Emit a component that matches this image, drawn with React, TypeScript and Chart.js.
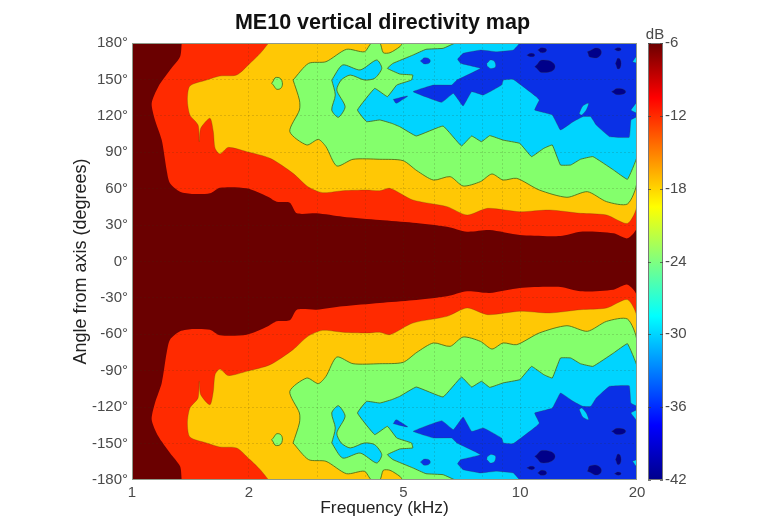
import React, { useEffect, useRef } from "react";
import { Chart, registerables } from "chart.js";

Chart.register(...registerables);

type P = [number, number];

const titleText = "ME10 vertical directivity map";
const xTitle = "Frequency (kHz)";
const yTitle = "Angle from axis (degrees)";
const freqGrid = [1, 2, 3, 4, 5, 6, 7, 8, 9, 10, 20];
const freqLabels = [1, 2, 5, 10, 20];

// contour outlines: [frequency kHz, angle degrees]
const plane: P[] = [[1, 180], [20, 180], [20, -180], [1, -180]];

const redTop: P[] = [[1.343, 180], [1.33, 168.7], [1.253, 157.7], [1.169, 144], [1.124, 130.3], [1.146, 116.6], [1.193, 100], [1.228, 75.4], [1.253, 64.4], [1.33, 57.5], [1.439, 55.6], [1.588, 56.2], [1.685, 60.8], [1.975, 60.3], [2.24, 53.4], [2.36, 49.3], [2.55, 48.5], [2.66, 39.7], [2.99, 39.7], [3.49, 36.9], [4.35, 34.2], [5.29, 32], [6.48, 28.7], [7.3, 24.6], [8.35, 25.9], [9.98, 21.8], [12.7, 21], [14.3, 24.6], [17.4, 23.2], [18.9, 19.1], [20, 28.7], [20, 180]];
const redBottom: P[] = [[1.343, -180], [1.33, -168.7], [1.253, -157.7], [1.169, -144], [1.124, -130.3], [1.146, -116.6], [1.193, -100], [1.228, -75.4], [1.253, -64.4], [1.33, -57.5], [1.439, -55.6], [1.588, -56.2], [1.685, -60.8], [1.975, -60.3], [2.24, -53.4], [2.36, -49.3], [2.55, -48.5], [2.66, -39.7], [2.99, -39.7], [3.49, -36.9], [4.35, -34.2], [5.29, -32], [6.48, -28.7], [7.3, -24.6], [8.35, -25.9], [9.98, -21.8], [12.7, -21], [14.3, -24.6], [17.4, -23.2], [18.9, -19.1], [20, -28.7], [20, -180]];

const yellowTop: P[] = [[2.25, 180], [2.14, 171.5], [2.01, 163], [1.86, 153.6], [1.685, 152.8], [1.557, 149.5], [1.41, 144.6], [1.389, 133], [1.41, 120.7], [1.48, 112.4], [1.49, 98.7], [1.503, 109.7], [1.588, 118], [1.62, 107], [1.637, 93.2], [1.685, 88.6], [1.77, 94], [1.975, 90.5], [2.27, 85], [2.6, 72.6], [2.84, 61.6], [3.1, 56.7], [3.49, 58.3], [4.02, 58.9], [4.35, 58.3], [4.62, 60.3], [5.29, 50.7], [6.48, 45.2], [7.3, 38.3], [8.24, 43.8], [9.98, 41], [11.9, 42.4], [14.3, 39.7], [16.7, 38.3], [18.9, 31.4], [20, 46.5], [20, 180]];
const yellowBottom: P[] = [[2.25, -180], [2.14, -171.5], [2.01, -163], [1.86, -153.6], [1.685, -152.8], [1.557, -149.5], [1.41, -144.6], [1.389, -133], [1.41, -120.7], [1.48, -112.4], [1.49, -98.7], [1.503, -109.7], [1.588, -118], [1.62, -107], [1.637, -93.2], [1.685, -88.6], [1.77, -94], [1.975, -90.5], [2.27, -85], [2.6, -72.6], [2.84, -61.6], [3.1, -56.7], [3.49, -58.3], [4.02, -58.9], [4.35, -58.3], [4.62, -60.3], [5.29, -50.7], [6.48, -45.2], [7.3, -38.3], [8.24, -43.8], [9.98, -41], [11.9, -42.4], [14.3, -39.7], [16.7, -38.3], [18.9, -31.4], [20, -46.5], [20, -180]];

const greenTop: P[] = [[2.6, 149.5], [2.85, 163.2], [3.16, 164.6], [3.57, 174.8], [3.97, 172.8], [4.14, 180], [4.35, 180], [4.44, 172], [4.62, 172], [4.9, 177], [5.0, 180], [20, 180], [20, 65.8], [18.9, 47.4], [16.7, 49.3], [14.9, 57.5], [13.2, 52.9], [11.2, 58.9], [9.8, 68.5], [9.04, 67.1], [8.46, 72.1], [7.9, 65.8], [7.13, 62.2], [6.6, 69.9], [5.98, 67.1], [5.42, 74.8], [4.99, 83.1], [4.35, 84.2], [3.71, 84.2], [3.37, 78.7], [3.16, 94.6], [3.02, 100.6], [2.82, 96], [2.55, 107], [2.7, 124.8], [2.7, 133]];
const greenBottom: P[] = [[2.6, -149.5], [2.85, -163.2], [3.16, -164.6], [3.57, -174.8], [3.97, -172.8], [4.14, -180], [4.35, -180], [4.44, -172], [4.62, -172], [4.9, -177], [5.0, -180], [20, -180], [20, -65.8], [18.9, -47.4], [16.7, -49.3], [14.9, -57.5], [13.2, -52.9], [11.2, -58.9], [9.8, -68.5], [9.04, -67.1], [8.46, -72.1], [7.9, -65.8], [7.13, -62.2], [6.6, -69.9], [5.98, -67.1], [5.42, -74.8], [4.99, -83.1], [4.35, -84.2], [3.71, -84.2], [3.37, -78.7], [3.16, -94.6], [3.02, -100.6], [2.82, -96], [2.55, -107], [2.7, -124.8], [2.7, -133]];
const greenIsleTop: P[] = [[2.29, 146.8], [2.36, 151.7], [2.44, 147.3], [2.38, 141.8]];
const greenIsleBottom: P[] = [[2.29, -146.8], [2.36, -151.7], [2.44, -147.3], [2.38, -141.8]];

const cyanTop: P[] = [[6.8, 180], [6.33, 175.6], [5.72, 174.8], [5.29, 170], [4.7, 163.2], [4.55, 159.1], [4.9, 154.4], [5.29, 153.6], [5.25, 149.5], [4.81, 145.4], [4.55, 135.8], [4.22, 142.6], [3.81, 124.8], [4.02, 115.2], [4.35, 116.6], [4.67, 113.8], [4.9, 111], [5.4, 103.4], [6.33, 111.6], [7.06, 95.2], [7.5, 103.4], [7.95, 98.7], [8.35, 103.7], [9.04, 100], [9.98, 97.3], [10.7, 86.4], [11.5, 93.2], [12.1, 96], [12.7, 79.5], [13.5, 79.5], [14.3, 84.2], [15.4, 86.4], [17.4, 75.4], [18.9, 67.7], [20, 86.4], [20, 180]];
const cyanBottom: P[] = [[6.8, -180], [6.33, -175.6], [5.72, -174.8], [5.29, -170], [4.7, -163.2], [4.55, -159.1], [4.9, -154.4], [5.29, -153.6], [5.25, -149.5], [4.81, -145.4], [4.55, -135.8], [4.22, -142.6], [3.81, -124.8], [4.02, -115.2], [4.35, -116.6], [4.67, -113.8], [4.9, -111], [5.4, -103.4], [6.33, -111.6], [7.06, -95.2], [7.5, -103.4], [7.95, -98.7], [8.35, -103.7], [9.04, -100], [9.98, -97.3], [10.7, -86.4], [11.5, -93.2], [12.1, -96], [12.7, -79.5], [13.5, -79.5], [14.3, -84.2], [15.4, -86.4], [17.4, -75.4], [18.9, -67.7], [20, -86.4], [20, -180]];
const cyanLobeTop: P[] = [[3.27, 149.5], [3.49, 161.9], [3.87, 157.8], [4.27, 166], [4.4, 159.1], [4.22, 150.9], [3.97, 149.5], [3.65, 153.6], [3.46, 149.5], [3.37, 141.3], [3.54, 127.5], [3.4, 118.8], [3.27, 124.8], [3.34, 137.1]];
const cyanLobeBottom: P[] = [[3.27, -149.5], [3.49, -161.9], [3.87, -157.8], [4.27, -166], [4.4, -159.1], [4.22, -150.9], [3.97, -149.5], [3.65, -153.6], [3.46, -149.5], [3.37, -141.3], [3.54, -127.5], [3.4, -118.8], [3.27, -124.8], [3.34, -137.1]];
const cyanHoleATop: P[] = [[8.2, 163.2], [8.44, 166], [8.65, 161.9], [8.5, 159.1], [8.26, 160.5]];
const cyanHoleABottom: P[] = [[8.2, -163.2], [8.44, -166], [8.65, -161.9], [8.5, -159.1], [8.26, -160.5]];
const cyanHoleBTop: P[] = [[14.2, 122], [14.5, 128.1], [15, 130.3], [14.8, 124.8], [14.4, 120.7]];
const cyanHoleBBottom: P[] = [[14.2, -122], [14.5, -128.1], [15, -130.3], [14.8, -124.8], [14.4, -120.7]];

const blueTop: P[] = [[9.98, 180], [9.6, 174.2], [8.69, 172.8], [7.9, 174.2], [7.13, 171.5], [6.9, 166.6], [7.03, 163.2], [7.9, 159.1], [6.87, 149.5], [6.66, 145.4], [5.98, 145.4], [5.3, 139.9], [6.28, 131.1], [6.73, 138.5], [7.13, 128.1], [7.5, 139.9], [8.04, 137.1], [8.96, 145.4], [9.06, 149.5], [9.6, 150], [11, 135.8], [11.2, 133], [10.9, 124.8], [12.1, 120.7], [12.7, 108.3], [13.7, 115.2], [14.5, 119.3], [15.2, 119.3], [15.7, 112.4], [17, 102.8], [19.1, 102.3], [19.3, 116.6], [20, 119.3], [20, 122], [19.3, 124.8], [20, 131.7], [20, 163.2], [19.5, 164.6], [20, 170], [20, 180]];
const blueBottom: P[] = [[9.98, -180], [9.6, -174.2], [8.69, -172.8], [7.9, -174.2], [7.13, -171.5], [6.9, -166.6], [7.03, -163.2], [7.9, -159.1], [6.87, -149.5], [6.66, -145.4], [5.98, -145.4], [5.3, -139.9], [6.28, -131.1], [6.73, -138.5], [7.13, -128.1], [7.5, -139.9], [8.04, -137.1], [8.96, -145.4], [9.06, -149.5], [9.6, -150], [11, -135.8], [11.2, -133], [10.9, -124.8], [12.1, -120.7], [12.7, -108.3], [13.7, -115.2], [14.5, -119.3], [15.2, -119.3], [15.7, -112.4], [17, -102.8], [19.1, -102.3], [19.3, -116.6], [20, -119.3], [20, -122], [19.3, -124.8], [20, -131.7], [20, -163.2], [19.5, -164.6], [20, -170], [20, -180]];
const blueIsleATop: P[] = [[5.53, 165.2], [5.7, 167.9], [5.87, 165.2], [5.7, 162.7]];
const blueIsleABottom: P[] = [[5.53, -165.2], [5.7, -167.9], [5.87, -165.2], [5.7, -162.7]];
const blueIsleBTop: P[] = [[4.71, 133.6], [5.13, 136.3], [4.93, 132.5], [4.79, 130.3]];
const blueIsleBBottom: P[] = [[4.71, -133.6], [5.13, -136.3], [4.93, -132.5], [4.79, -130.3]];

const navyATop: P[] = [[10.9, 160.5], [11.5, 166], [12.3, 160.5], [11.5, 155.6]];
const navyABottom: P[] = [[10.9, -160.5], [11.5, -166], [12.3, -160.5], [11.5, -155.6]];
const navyBTop: P[] = [[14.9, 172.8], [15.9, 175.6], [16.1, 170], [15.2, 168.2]];
const navyBBottom: P[] = [[14.9, -172.8], [15.9, -175.6], [16.1, -170], [15.2, -168.2]];
const navyCTop: P[] = [[17.6, 163.2], [17.9, 167.4], [18.2, 163.2], [17.9, 158.6]];
const navyCBottom: P[] = [[17.6, -163.2], [17.9, -167.4], [18.2, -163.2], [17.9, -158.6]];
const navyDTop: P[] = [[17.2, 139.9], [17.9, 142.6], [18.7, 139.9], [17.9, 137.4]];
const navyDBottom: P[] = [[17.2, -139.9], [17.9, -142.6], [18.7, -139.9], [17.9, -137.4]];
const navyETop: P[] = [[11.1, 174.2], [11.4, 176.1], [11.7, 174.2], [11.4, 172]];
const navyEBottom: P[] = [[11.1, -174.2], [11.4, -176.1], [11.7, -174.2], [11.4, -172]];
const navyFTop: P[] = [[10.4, 170], [10.7, 171.5], [10.9, 170], [10.7, 168.7]];
const navyFBottom: P[] = [[10.4, -170], [10.7, -171.5], [10.9, -170], [10.7, -168.7]];
const navyGTop: P[] = [[17.5, 174.8], [17.9, 176], [18.2, 174.8], [17.9, 173.4]];
const navyGBottom: P[] = [[17.5, -174.8], [17.9, -176], [18.2, -174.8], [17.9, -173.4]];

const DARK = "#6a0000";
const RED = "#ff2a00";
const YELLOW = "#ffc805";
const GREEN = "#84ff6c";
const CYAN = "#00d4ff";
const BLUE = "#0a30e6";
const NAVY = "#00008a";
const EDGE = "rgba(75,105,25,0.85)";
const FAINT = "rgba(70,60,20,0.25)";
const NONE = "rgba(0,0,0,0)";
const OVAL = 0.6;
const SOFT = 0.25;
const SHARP = 0.08;

// first entry is painted on top
const layers: [P[], string, string, number][] = [
  [navyATop, NAVY, FAINT, OVAL], [navyABottom, NAVY, FAINT, OVAL],
  [navyBTop, NAVY, FAINT, OVAL], [navyBBottom, NAVY, FAINT, OVAL],
  [navyCTop, NAVY, FAINT, OVAL], [navyCBottom, NAVY, FAINT, OVAL],
  [navyDTop, NAVY, FAINT, OVAL], [navyDBottom, NAVY, FAINT, OVAL],
  [navyETop, NAVY, FAINT, OVAL], [navyEBottom, NAVY, FAINT, OVAL],
  [navyFTop, NAVY, FAINT, OVAL], [navyFBottom, NAVY, FAINT, OVAL],
  [navyGTop, NAVY, FAINT, OVAL], [navyGBottom, NAVY, FAINT, OVAL],
  [cyanHoleATop, CYAN, FAINT, OVAL], [cyanHoleABottom, CYAN, FAINT, OVAL],
  [cyanHoleBTop, CYAN, FAINT, SOFT], [cyanHoleBBottom, CYAN, FAINT, SOFT],
  [blueIsleATop, BLUE, FAINT, OVAL], [blueIsleABottom, BLUE, FAINT, OVAL],
  [blueIsleBTop, BLUE, FAINT, SOFT], [blueIsleBBottom, BLUE, FAINT, SOFT],
  [blueTop, BLUE, FAINT, SHARP], [blueBottom, BLUE, FAINT, SHARP],
  [cyanLobeTop, CYAN, EDGE, SOFT], [cyanLobeBottom, CYAN, EDGE, SOFT],
  [cyanTop, CYAN, EDGE, SHARP], [cyanBottom, CYAN, EDGE, SHARP],
  [greenIsleTop, GREEN, EDGE, OVAL], [greenIsleBottom, GREEN, EDGE, OVAL],
  [greenTop, GREEN, EDGE, SOFT], [greenBottom, GREEN, EDGE, SOFT],
  [yellowTop, YELLOW, FAINT, SOFT], [yellowBottom, YELLOW, FAINT, SOFT],
  [redTop, RED, NONE, SOFT], [redBottom, RED, NONE, SOFT],
  [plane, DARK, NONE, 0],
];

const dbMin = -42;
const dbMax = -6;
const dbStep = 6;
const jetStops: [number, string][] = [
  [0, "#6a0000"], [0.125, "#ff0000"], [0.375, "#ffff00"], [0.625, "#00ffff"], [0.875, "#0000ff"], [1, "#00008a"],
];

const FONT = "'Liberation Sans', Arial, sans-serif";
const TICK = "#4a4a4a";
const GRID = "rgba(50,50,20,0.16)";

const frame = {
  id: "frame",
  afterDraw(chart: any) {
    const { ctx, chartArea: a, scales } = chart;
    const y2 = scales.y2;
    const top = y2.getPixelForValue(dbMax);
    const bottom = y2.getPixelForValue(dbMin);
    const left = 648;
    const right = 663;
    const g = ctx.createLinearGradient(0, top, 0, bottom);
    jetStops.forEach(([o, c]) => g.addColorStop(o, c));
    ctx.save();
    ctx.fillStyle = g;
    ctx.fillRect(left, top, right - left, bottom - top);
    ctx.strokeStyle = "#777";
    ctx.lineWidth = 1;
    ctx.strokeRect(left + 0.5, top + 0.5, right - left - 1, bottom - top - 1);
    ctx.beginPath();
    y2.ticks.forEach((t: any) => {
      const py = Math.round(y2.getPixelForValue(t.value)) + 0.5;
      ctx.moveTo(left, py);
      ctx.lineTo(left + 3, py);
      ctx.moveTo(right - 3, py);
      ctx.lineTo(right, py);
    });
    ctx.strokeStyle = "rgba(60,60,60,0.7)";
    ctx.stroke();
    ctx.strokeStyle = "#8f9a8a";
    ctx.strokeRect(a.left + 0.5, a.top + 0.5, a.width - 1, a.height - 1);
    ctx.fillStyle = TICK;
    ctx.font = `15px ${FONT}`;
    ctx.textAlign = "center";
    ctx.textBaseline = "bottom";
    ctx.fillText("dB", 655, 42);
    ctx.restore();
  },
};

export default function App() {
  const ref = useRef<HTMLCanvasElement>(null);
  useEffect(() => {
    const chart = new Chart(ref.current as HTMLCanvasElement, {
      type: "line",
      data: {
        datasets: layers.map(([pts, fill, edge, tension]) => ({
          data: [...pts, pts[0]].map(([x, y]) => ({ x, y })),
          fill: "shape",
          backgroundColor: fill,
          borderColor: edge,
          borderWidth: 1,
          pointRadius: 0,
          tension,
          xAxisID: "x",
          yAxisID: "y",
        })),
      } as any,
      options: {
        animation: false,
        responsive: false,
        devicePixelRatio: 1,
        parsing: { xAxisKey: "x", yAxisKey: "y" },
        layout: { padding: 0 },
        plugins: {
          legend: { display: false },
          tooltip: { enabled: false },
          title: {
            display: true,
            text: titleText,
            color: "#111",
            font: { family: FONT, size: 21.5, weight: "bold", lineHeight: 1.2 },
            padding: { top: 10, bottom: 7.2 },
          },
        },
        scales: {
          x: {
            type: "logarithmic",
            min: 1,
            max: 20,
            afterBuildTicks(s: any) {
              s.ticks = freqGrid.map((value) => ({ value }));
            },
            afterFit(s: any) {
              s.height = 45;
            },
            grid: {
              z: 1,
              color: (c: any) => (c.tick && (c.tick.value === 1 || c.tick.value === 20) ? NONE : GRID),
              drawTicks: false,
            },
            border: { display: false, dash: [2, 2] },
            ticks: {
              autoSkip: false,
              maxRotation: 0,
              padding: 4,
              color: TICK,
              font: { family: FONT, size: 15 },
              callback: (v: any) => (freqLabels.includes(Number(v)) ? String(v) : ""),
            },
            title: { display: true, text: xTitle, color: "#222", font: { family: FONT, size: 17.4 }, padding: { top: 0, bottom: 6 } },
          },
          y: {
            type: "linear",
            min: -180,
            max: 180,
            afterFit(s: any) {
              s.width = 132;
            },
            grid: {
              z: 1,
              color: (c: any) => (c.tick && Math.abs(c.tick.value) === 180 ? NONE : GRID),
              drawTicks: false,
            },
            border: { display: false, dash: [2, 2] },
            ticks: {
              stepSize: 30,
              padding: 4,
              color: TICK,
              font: { family: FONT, size: 15 },
              callback: (v: any) => `${v}°`,
            },
            title: { display: true, text: yTitle, color: "#222", font: { family: FONT, size: 18 }, padding: { top: 70, bottom: 0 } },
          },
          y2: {
            type: "linear",
            position: "right",
            min: dbMin,
            max: dbMax,
            afterFit(s: any) {
              s.width = 128;
            },
            grid: { drawOnChartArea: false, drawTicks: false },
            border: { display: false },
            ticks: { stepSize: dbStep, padding: 28, color: TICK, font: { family: FONT, size: 15 } },
          },
        },
      } as any,
      plugins: [frame],
    });
    return () => chart.destroy();
  }, []);
  return (
    <canvas
      ref={ref}
      width={765}
      height={525}
      style={{ position: "absolute", left: 0, top: 0, width: 765, height: 525, background: "#fff", filter: "blur(0.6px)" }}
    />
  );
}
